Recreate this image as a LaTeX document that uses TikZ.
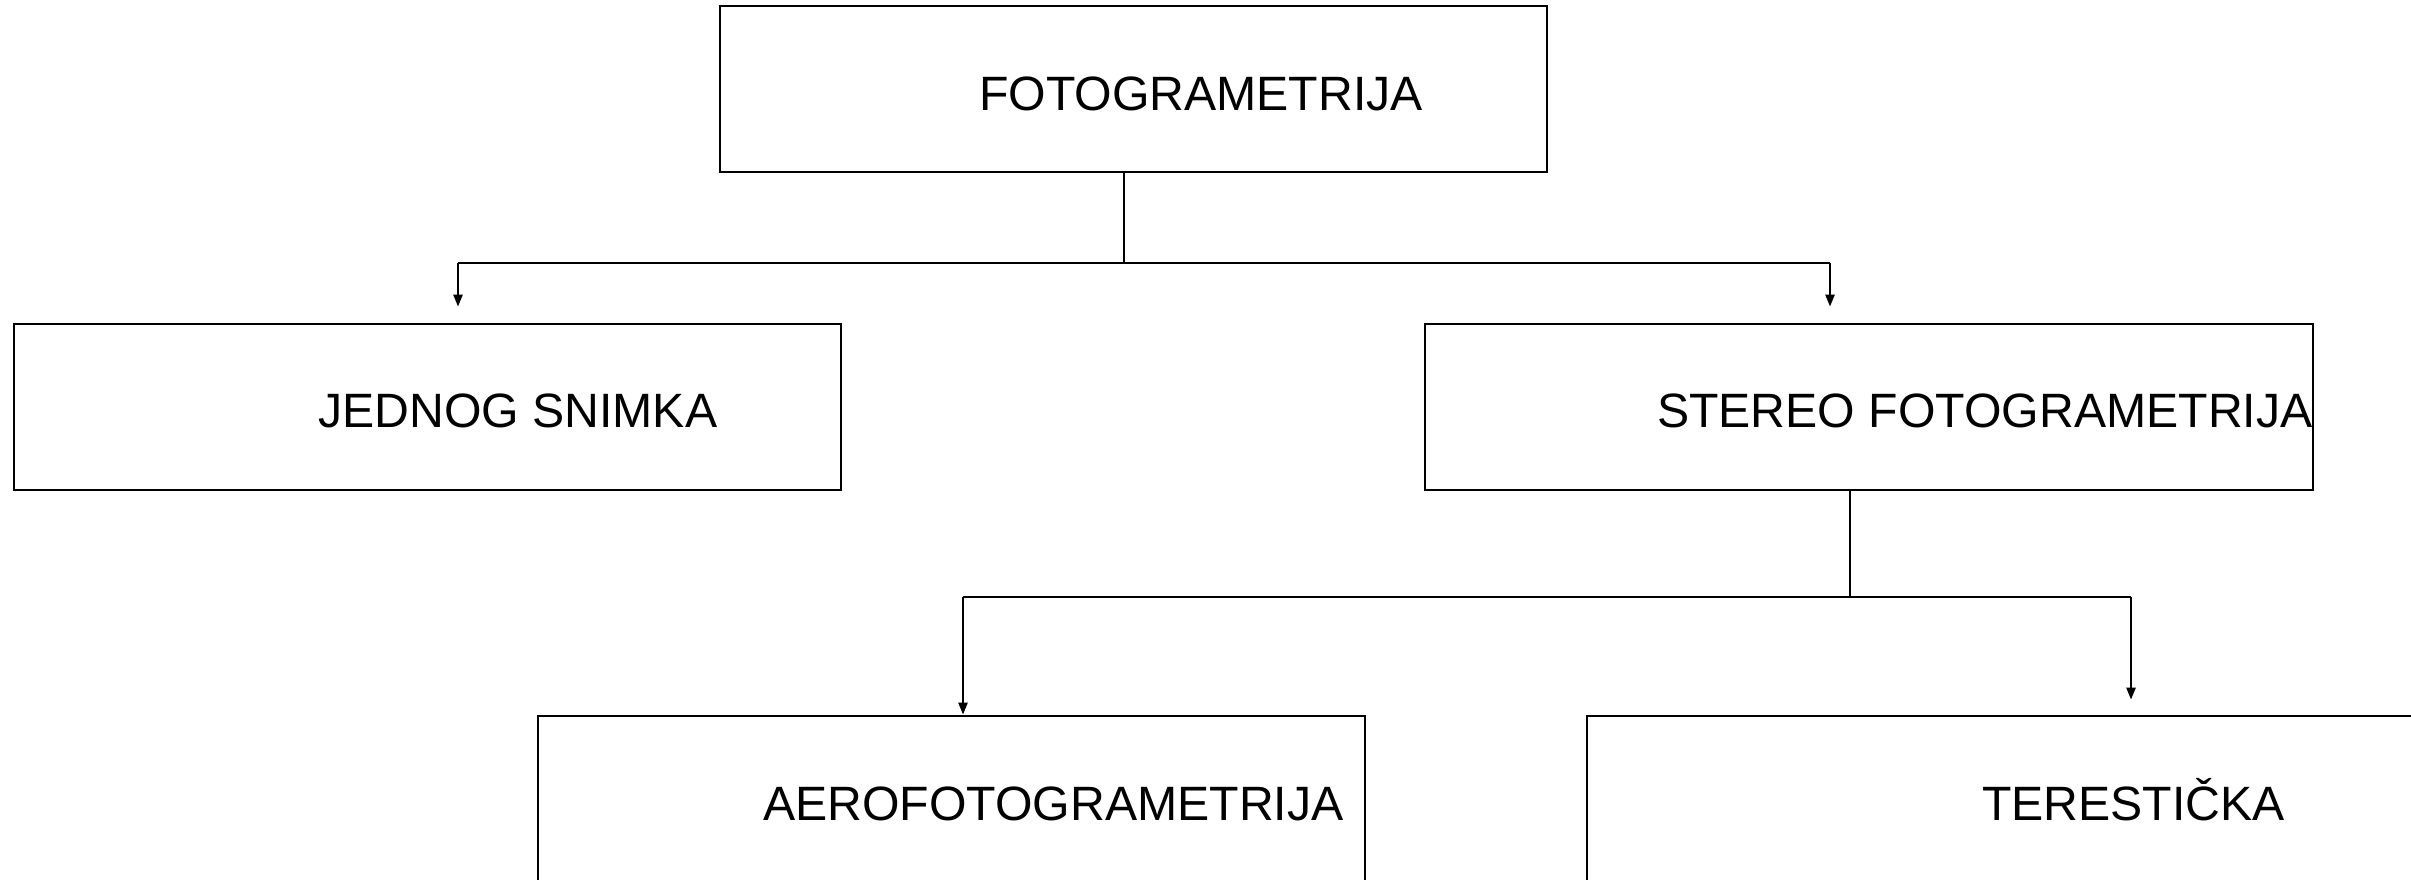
\documentclass[tikz,border=0pt]{standalone}
\usepackage{fontspec}
\setmainfont{Liberation Sans}
\usetikzlibrary{arrows.meta}
\begin{document}
\begin{tikzpicture}[x=1pt,y=-1pt,
  box/.style={draw, line width=2.7pt, rectangle, inner sep=0pt},
  lbl/.style={font=\fontsize{48.2}{58}\selectfont, anchor=base west, inner sep=0pt},
  conn/.style={line width=2.4pt},
  arr/.style={conn, -{Triangle[length=12pt,width=9pt]}}]
\useasboundingbox (0,0) rectangle (2411,880);
\clip (0,0) rectangle (2411,880);
% boxes
\node[box, minimum width=827pt, minimum height=166pt] (top) at (1133.5,89) {};
\node[box, minimum width=827pt, minimum height=166pt] (jed) at (427.5,407) {};
\node[box, minimum width=888pt, minimum height=166pt] (ster) at (1869,407) {};
\node[box, minimum width=827pt, minimum height=166pt] (aero) at (951.5,799) {};
\node[box, minimum width=888pt, minimum height=166pt] (ter) at (2031,799) {};
% labels
\node[lbl] (ttop) at (979,111) {FOTOGRAMETRIJA};
\node[lbl] (tjed) at (318,427) {JEDNOG SNIMKA};
\node[lbl] (tster) at (1657,427) {STEREO FOTOGRAMETRIJA};
\node[lbl] (taero) at (763,820) {AEROFOTOGRAMETRIJA};
\node[lbl] (tter) at (1982,820) {TERESTIČKA};
% first level connectors
\coordinate (bus1) at (1124,263);
\coordinate (bus1l) at (458,263);
\coordinate (bus1r) at (1830,263);
\draw[conn] (top.south -| bus1) -- (bus1);
\draw[conn] (bus1l) -- (bus1r);
\draw[arr] (bus1l) -- ([yshift=16pt]jed.north -| bus1l);
\draw[arr] (bus1r) -- ([yshift=16pt]ster.north -| bus1r);
% second level connectors
\coordinate (bus2) at (1850,597);
\coordinate (bus2l) at (963,597);
\coordinate (bus2r) at (2131,597);
\draw[conn] (ster.south -| bus2) -- (bus2);
\draw[conn] (bus2l) -- (bus2r);
\draw[arr] (bus2l) -- (aero.north -| bus2l);
\draw[arr] (bus2r) -- ([yshift=15pt]ter.north -| bus2r);
\end{tikzpicture}
\end{document}
